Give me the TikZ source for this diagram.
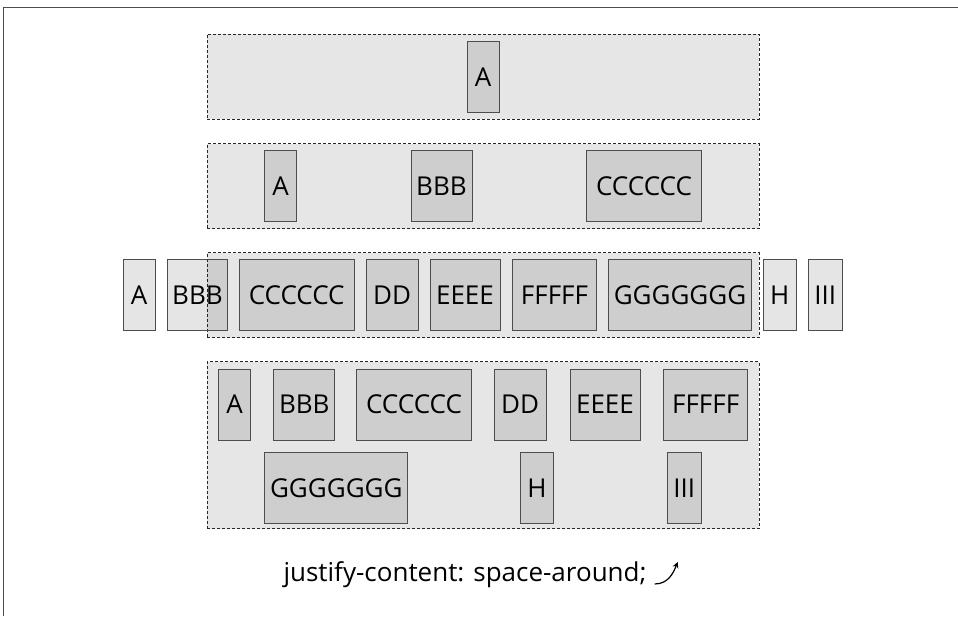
\documentclass[tikz,border=0pt]{standalone}
\usepackage{fontspec}
\setmainfont{Open Sans}
\usepackage{xcolor}
\definecolor{panel}{HTML}{E6E6E6}
\definecolor{edge}{HTML}{4D4D4D}
\usepackage{tikz}
\usetikzlibrary{arrows.meta, positioning, calc}

\begin{document}
\begin{tikzpicture}[x=1pt, y=-1pt,
  flexbox/.style={draw=black!85, dash pattern=on 3pt off 2pt, fill=panel, line width=0.9pt, minimum width=552, minimum height=85, inner sep=0},
  flexitem/.style={draw=edge, line width=1pt, fill=black, fill opacity=0.1, text opacity=1, minimum height=71, inner sep=0, font=\fontsize{26}{31}\selectfont}]
  \useasboundingbox (0,0) rectangle (958,616);
  \draw[black!70, line width=1.5pt] (3.5,616) |- (958,7.5);
  % containers
  \node[flexbox] (box1) at (483,76.5) {};
  \node[flexbox] (box2) at (483,186.2) {};
  \node[flexbox] (box3) at (483,295.4) {};
  \node[flexbox, minimum height=167] (box4) at (483,445.2) {};
  % one item
  \node[flexitem, minimum width=32] (a1) at (483,77) {A};
  % three items
  \node[flexitem, minimum width=32]  (a2) at (280.5,186.2) {A};
  \node[flexitem, minimum width=61]  (b2) at (441.5,186.2) {BBB};
  \node[flexitem, minimum width=115] (c2) at (644,186.2) {CCCCCC};
  % overflowing items
  \node[flexitem, minimum width=32]  (a3) at (139,295.4) {A};
  \node[flexitem, minimum width=60]  (b3) at (197.5,295.4) {BBB};
  \node[flexitem, minimum width=115] (c3) at (296.7,295.4) {CCCCCC};
  \node[flexitem, minimum width=52]  (d3) at (392,295.4) {DD};
  \node[flexitem, minimum width=70]  (e3) at (465,295.4) {EEEE};
  \node[flexitem, minimum width=84]  (f3) at (554.5,295.4) {FFFFF};
  \node[flexitem, minimum width=143] (g3) at (680,295.4) {GGGGGGG};
  \node[flexitem, minimum width=33]  (h3) at (779.7,295.4) {H};
  \node[flexitem, minimum width=34]  (i3) at (825.3,295.4) {III};
  % wrapping items
  \node[flexitem, minimum width=32]  (a4) at (234.5,404.5) {A};
  \node[flexitem, minimum width=61]  (b4) at (304.3,404.5) {BBB};
  \node[flexitem, minimum width=115] (c4) at (414,404.5) {CCCCCC};
  \node[flexitem, minimum width=52]  (d4) at (520,404.5) {DD};
  \node[flexitem, minimum width=70]  (e4) at (605,404.5) {EEEE};
  \node[flexitem, minimum width=84]  (f4) at (705.7,404.5) {FFFFF};
  \node[flexitem, minimum width=143] (g4) at (336.3,487.8) {GGGGGGG};
  \node[flexitem, minimum width=33]  (h4) at (537,487.8) {H};
  \node[flexitem, minimum width=34]  (i4) at (684.3,487.8) {III};
  % caption
  \node[font=\fontsize{26}{31}\selectfont, inner sep=0] (caption) at (465,575) {justify-content: space-around;};
  \coordinate (tail) at ($(caption.east)+(8,9)$);
  \coordinate (tip) at ($(caption.east)+(31,-13)$);
  \draw[-{Stealth[length=6pt, width=6pt]}, line width=1.2pt] (tail) .. controls +(14,0) and +(-4,10) .. (tip);
\end{tikzpicture}
\end{document}
